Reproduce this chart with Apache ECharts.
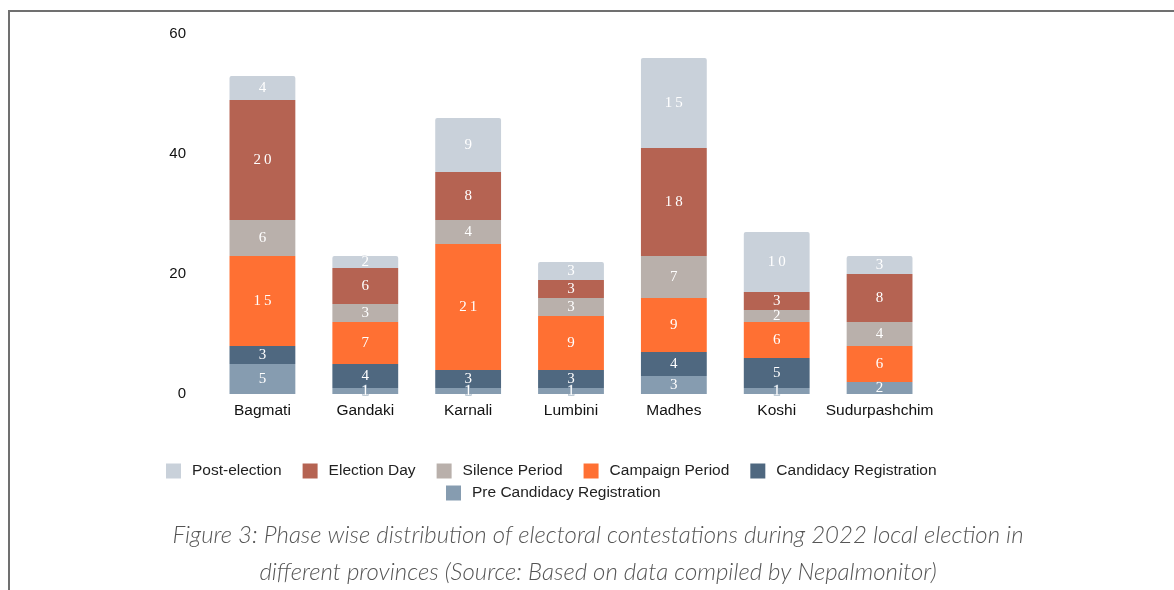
<!DOCTYPE html>
<html>
<head>
<meta charset="utf-8">
<title>Phase wise distribution of electoral contestations</title>
<script src="https://cdn.jsdelivr.net/npm/echarts@6/dist/echarts.min.js"></script>
<style>
  html, body { margin: 0; padding: 0; background: #fff; }
  #chart { width: 1174px; height: 590px; }
</style>
</head>
<body>
<div id="chart"></div>
<script>
// Provinces along the x axis
const provinces = ['Bagmati', 'Gandaki', 'Karnali', 'Lumbini', 'Madhes', 'Koshi', 'Sudurpashchim'];

// Number of contestations per phase, one value per province (stacked bottom to top)
const preCandidacy  = [5, 1, 1, 1, 3, 1, 2];
const candidacy     = [3, 4, 3, 3, 4, 5, 0];
const campaign      = [15, 7, 21, 9, 9, 6, 6];
const silence       = [6, 3, 4, 3, 7, 2, 4];
const electionDay   = [20, 6, 8, 3, 18, 3, 8];
const postElection  = [4, 2, 9, 3, 15, 10, 3];

// Y axis ticks
const yTicks = [0, 20, 40, 60];

const phases = [
  { name: 'Pre Candidacy Registration', data: preCandidacy, color: '#869cb0' },
  { name: 'Candidacy Registration',     data: candidacy,    color: '#4f6880' },
  { name: 'Campaign Period',            data: campaign,     color: '#ff7033' },
  { name: 'Silence Period',             data: silence,      color: '#b9b0ab' },
  { name: 'Election Day',               data: electionDay,  color: '#b56352' },
  { name: 'Post-election',              data: postElection, color: '#c9d1da' }
];

const chart = echarts.init(document.getElementById('chart'), null, { renderer: 'canvas' });

const series = phases.map((p, i) => ({
  name: p.name,
  type: 'bar',
  stack: 'total',
  barWidth: '64%',
  data: p.data,
  itemStyle: {
    color: p.color,
    borderRadius: i === phases.length - 1 ? [2, 2, 0, 0] : 0
  },
  label: {
    show: true,
    position: 'inside',
    color: '#fff',
    fontFamily: 'Liberation Serif, DejaVu Serif, serif',
    fontSize: 15,
    textBorderColor: p.color,
    textBorderWidth: 1,
    formatter: (d) => (d.value ? String(d.value).split('').join('\u2009') : '')
  }
}));

const legendText = {
  fontFamily: 'Liberation Sans, Arial, sans-serif',
  fontSize: 15.5,
  color: '#222',
  padding: [0, 0, 0, 6]
};

chart.setOption({
  animation: false,
  backgroundColor: '#fff',
  color: phases.map(p => p.color),
  grid: { left: 211, right: 243, top: 34, bottom: 196, containLabel: false },
  legend: [
    {
      data: ['Post-election', 'Election Day', 'Silence Period', 'Campaign Period', 'Candidacy Registration'],
      top: 463,
      left: 166,
      padding: 0,
      itemWidth: 15,
      itemHeight: 15,
      itemGap: 21,
      icon: 'rect',
      textStyle: legendText
    },
    {
      data: ['Pre Candidacy Registration'],
      top: 485,
      left: 446,
      padding: 0,
      itemWidth: 15,
      itemHeight: 15,
      icon: 'rect',
      textStyle: legendText
    }
  ],
  xAxis: {
    type: 'category',
    data: provinces,
    axisLine: { show: false },
    axisTick: { show: false },
    axisLabel: {
      interval: 0,
      margin: 9,
      color: '#111',
      fontFamily: 'Liberation Sans, Arial, sans-serif',
      fontSize: 15.5
    }
  },
  yAxis: {
    type: 'value',
    min: yTicks[0],
    max: yTicks[yTicks.length - 1],
    interval: yTicks[1] - yTicks[0],
    splitLine: { show: false },
    axisLine: { show: false },
    axisTick: { show: false },
    axisLabel: {
      margin: 25,
      color: '#111',
      fontFamily: 'Liberation Sans, Arial, sans-serif',
      fontSize: 15
    }
  },
  series: series,
  graphic: [
    // frame lines along the top and left of the figure
    {
      type: 'polyline',
      silent: true,
      shape: { points: [[9, 590], [9, 11], [1174, 11]] },
      style: { stroke: '#707070', lineWidth: 2, fill: null }
    },
    // figure caption
    {
      type: 'text',
      silent: true,
      style: {
        x: 598,
        y: 535,
        text: 'Figure 3: Phase wise distribution of electoral contestations during 2022 local election in',
        textAlign: 'center',
        textVerticalAlign: 'middle',
        font: 'italic 300 24px Lato, "Open Sans", sans-serif',
        fill: '#555'
      }
    },
    {
      type: 'text',
      silent: true,
      style: {
        x: 598,
        y: 572,
        text: 'different provinces (Source: Based on data compiled by Nepalmonitor)',
        textAlign: 'center',
        textVerticalAlign: 'middle',
        font: 'italic 300 24px Lato, "Open Sans", sans-serif',
        fill: '#555'
      }
    }
  ]
});
</script>
</body>
</html>
